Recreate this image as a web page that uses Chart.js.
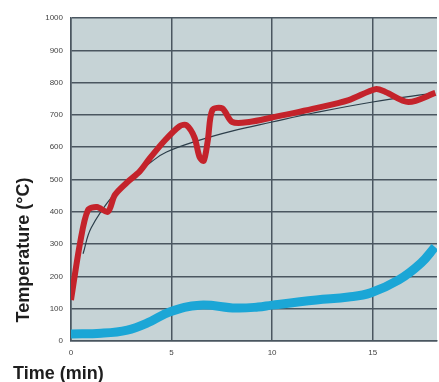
<!DOCTYPE html>
<html>
<head>
<meta charset="utf-8">
<script src="https://cdn.jsdelivr.net/npm/chart.js@4.4.1/dist/chart.umd.min.js"></script>
<style>
  body { margin: 0; background: #fff; }
  #wrap { width: 439px; height: 382px; }
</style>
</head>
<body>
<div id="wrap"><canvas id="myChart"></canvas></div>
<script>
// time in minutes, temperature in °C
const redTime = [0, 0.45, 0.84, 1.29, 1.83, 2.18, 2.77, 3.42, 3.91, 4.65, 5.4, 5.74, 6.14, 6.39, 6.6, 6.8, 7.03, 7.52, 8.02, 8.86, 10, 12.18, 13.81, 15.15, 15.64, 16.78, 18.12];
const redTemp = [127, 303, 405, 415, 400, 452, 490, 525, 565, 620, 665, 668, 630, 570, 558, 620, 715, 720, 678, 678, 692, 721, 746, 780, 771, 740, 768];

const stdTime = [0.6, 1, 2.1, 3, 4, 4.75, 6.4, 8, 10, 12, 15, 18.1];
const stdTemp = [270, 350, 452, 505, 555, 585, 622, 650, 678, 705, 740, 768];

const blueTime = [0, 1.5, 2.8, 3.8, 4.9, 6.4, 8.2, 9.3, 10, 12.2, 13.8, 14.9, 16.3, 17.4, 18.1];
const blueTemp = [22, 24, 34, 56, 90, 111, 102, 105, 111, 127, 136, 149, 189, 241, 291];

const yTicks = [0, 100, 200, 300, 400, 500, 600, 700, 800, 900, 1000];
const xTicks = [0, 5, 10, 15];

function pts(xs, ys) {
    return xs.map((x, i) => ({ x: x, y: ys[i] }));
}

const plotBg = {
    id: 'plotBg',
    beforeDraw(chart) {
        const { ctx, chartArea: a } = chart;
        ctx.save();
        ctx.fillStyle = '#c6d3d6';
        ctx.fillRect(a.left, a.top, a.right - a.left, a.bottom - a.top);
        ctx.restore();
    },
    afterDraw(chart) {
        const ctx = chart.ctx;
        ctx.save();
        ctx.fillStyle = '#1e1e1e';
        ctx.font = 'bold 18px "Liberation Sans", Arial, sans-serif';
        ctx.textBaseline = 'alphabetic';
        ctx.fillText('Time (min)', 13, 379);
        ctx.translate(29, 250);
        ctx.rotate(-Math.PI / 2);
        ctx.textAlign = 'center';
        ctx.fillText('Temperature (°C)', 0, 0);
        ctx.restore();
    }
};

new Chart(document.getElementById('myChart'), {
    type: 'line',
    data: {
        datasets: [
            {
                label: 'Standard',
                data: pts(stdTime, stdTemp),
                borderColor: '#2c3e4a',
                borderWidth: 1.2,
                pointRadius: 0,
                tension: 0.4,
                order: 3
            },
            {
                label: 'Red',
                data: pts(redTime, redTemp),
                borderColor: '#c4232b',
                borderWidth: 6,
                pointRadius: 0,
                tension: 0.3,
                order: 2
            },
            {
                label: 'Blue',
                data: pts(blueTime, blueTemp),
                borderColor: '#1ba6d6',
                borderWidth: 9,
                pointRadius: 0,
                tension: 0.4,
                order: 1
            }
        ]
    },
    options: {
        responsive: true,
        maintainAspectRatio: false,
        animation: false,
        layout: { padding: { left: 0, right: 2, top: 18, bottom: 0 } },
        plugins: { legend: { display: false }, tooltip: { enabled: false } },
        scales: {
            x: {
                type: 'linear',
                min: 0,
                max: 18.2,
                afterFit: s => { s.height = 41; },
                afterBuildTicks: s => { s.ticks = xTicks.map(v => ({ value: v })); },
                grid: { color: '#4a5660', lineWidth: 1.5, drawTicks: false },
                border: { color: '#4a5660', width: 1.5 },
                ticks: { color: '#444', font: { family: 'Liberation Sans', size: 8 }, padding: 7, callback: v => String(v) }
            },
            y: {
                min: 0,
                max: 1000,
                afterFit: s => { s.width = 71; },
                afterBuildTicks: s => { s.ticks = yTicks.map(v => ({ value: v })); },
                grid: { color: '#4a5660', lineWidth: 1.5, drawTicks: false },
                border: { color: '#4a5660', width: 1.5 },
                ticks: { color: '#444', font: { family: 'Liberation Sans', size: 8 }, padding: 8, callback: v => String(v) }
            }
        }
    },
    plugins: [plotBg]
});
</script>
</body>
</html>
